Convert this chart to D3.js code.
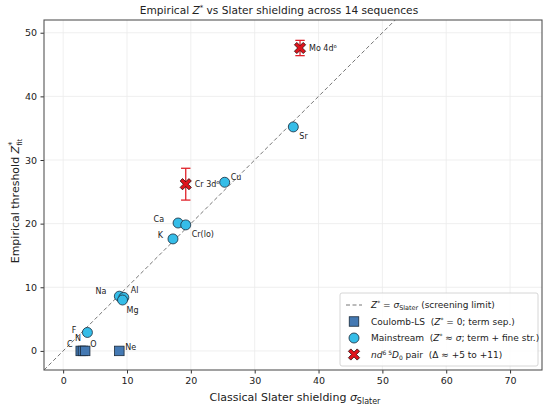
<!DOCTYPE html>
<html>
<head>
<meta charset="utf-8">
<script src="https://cdn.jsdelivr.net/npm/d3@7"></script>
<style>
  body { margin: 0; background: #fff; }
  svg { font-family: 'DejaVu Sans', sans-serif; }
</style>
</head>
<body>
<div id="chart"></div>
<script>
// Coulomb-LS sequences (Z* = 0)
const coulombNames = ['C', 'N', 'O', 'Ne'];
const coulombSigma = [2.75, 3.1, 3.45, 8.8];
const coulombZ = [0, 0, 0, 0];
const coulombLabelDx = [-8, -2, 5, 6];
const coulombLabelDy = [-4, -10, -4, -1];

// Mainstream sequences (Z* ~ sigma)
const mainNames = ['F', 'Na', 'Al', 'Mg', 'K', 'Ca', 'Cr(lo)', 'Cu', 'Sr'];
const mainSigma = [3.8, 8.8, 9.5, 9.3, 17.2, 18.0, 19.2, 25.3, 36.05];
const mainZ = [2.9, 8.6, 8.4, 8.0, 17.6, 20.1, 19.8, 26.5, 35.2];
const mainLabelDx = [-11, -13, 7, 4, -10, -14, 6, 6, 6];
const mainLabelDy = [1, -2, -4, 13, -1, -1, 12, -2, 12];

// nd^6 5D0 pair
const pairNames = ['Cr 3d\u2076', 'Mo 4d\u2076'];
const pairSigma = [19.2, 37.1];
const pairZ = [26.2, 47.6];
const pairErr = [2.5, 1.2];

const xTicks = [0, 10, 20, 30, 40, 50, 60, 70];
const yTicks = [0, 10, 20, 30, 40, 50];

const fullW = 550, fullH = 409;
const margin = { top: 20, right: 8, bottom: 39, left: 44 };
const width = fullW - margin.left - margin.right;
const height = fullH - margin.top - margin.bottom;

const svg = d3.select('#chart').append('svg')
  .attr('width', fullW)
  .attr('height', fullH);

const x = d3.scaleLinear().domain([-3, 75]).range([0, width]);
const y = d3.scaleLinear().domain([-3, 52]).range([height, 0]);

const g = svg.append('g')
  .attr('transform', 'translate(' + margin.left + ',' + margin.top + ')');

// grid
g.selectAll('.gx').data(xTicks).enter().append('line')
  .attr('x1', d => x(d)).attr('x2', d => x(d))
  .attr('y1', 0).attr('y2', height)
  .attr('stroke', '#ebebeb').attr('stroke-width', 0.8);
g.selectAll('.gy').data(yTicks).enter().append('line')
  .attr('y1', d => y(d)).attr('y2', d => y(d))
  .attr('x1', 0).attr('x2', width)
  .attr('stroke', '#ebebeb').attr('stroke-width', 0.8);

// clip for diagonal
svg.append('clipPath').attr('id', 'clip').append('rect')
  .attr('width', width).attr('height', height);

g.append('line')
  .attr('clip-path', 'url(#clip)')
  .attr('x1', x(-3)).attr('y1', y(-3))
  .attr('x2', x(75)).attr('y2', y(75))
  .attr('stroke', '#777').attr('stroke-width', 1)
  .attr('stroke-dasharray', '4,2.5');

// axes
const xAxis = g.append('g')
  .attr('transform', 'translate(0,' + height + ')')
  .call(d3.axisBottom(x).tickValues(xTicks).tickSize(3.5).tickPadding(3.5));
const yAxis = g.append('g')
  .call(d3.axisLeft(y).tickValues(yTicks).tickSize(3.5).tickPadding(3.5));
[xAxis, yAxis].forEach(a => {
  a.select('.domain').remove();
  a.selectAll('.tick line').attr('stroke', '#333');
  a.selectAll('.tick text').attr('fill', '#222').style('font-size', '9.5px')
    .style('font-family', 'DejaVu Sans');
});

// frame
g.append('rect').attr('width', width).attr('height', height)
  .attr('fill', 'none').attr('stroke', '#555').attr('stroke-width', 1.1);

const labelSize = '8px';

// Coulomb squares
const sq = 9.5;
g.selectAll('.coul').data(coulombSigma).enter().append('rect')
  .attr('x', (d) => x(d) - sq / 2)
  .attr('y', (d, i) => y(coulombZ[i]) - sq / 2)
  .attr('width', sq).attr('height', sq)
  .attr('fill', '#4479b3').attr('stroke', '#1a2a3a').attr('stroke-width', 0.8);
g.selectAll('.coulLab').data(coulombNames).enter().append('text')
  .attr('x', (d, i) => x(coulombSigma[i]) + coulombLabelDx[i])
  .attr('y', (d, i) => y(coulombZ[i]) + coulombLabelDy[i])
  .attr('text-anchor', (d, i) => coulombLabelDx[i] < 0 ? 'end' : 'start')
  .style('font-size', labelSize).attr('fill', '#222')
  .text(d => d);

// mainstream circles
g.selectAll('.main').data(mainSigma).enter().append('circle')
  .attr('cx', d => x(d))
  .attr('cy', (d, i) => y(mainZ[i]))
  .attr('r', 5)
  .attr('fill', '#35bde8').attr('stroke', '#1a2a3a').attr('stroke-width', 0.8);
g.selectAll('.mainLab').data(mainNames).enter().append('text')
  .attr('x', (d, i) => x(mainSigma[i]) + mainLabelDx[i])
  .attr('y', (d, i) => y(mainZ[i]) + mainLabelDy[i])
  .attr('text-anchor', (d, i) => mainLabelDx[i] < 0 ? 'end' : 'start')
  .style('font-size', labelSize).attr('fill', '#222')
  .text(d => d);

// pair: error bars + X markers
const crossPath = (s, a) => {
  return 'M' + (-s) + ',' + (-s + a) + ' L' + (-s + a) + ',' + (-s) + ' L0,' + (-a) +
    ' L' + (s - a) + ',' + (-s) + ' L' + s + ',' + (-s + a) + ' L' + a + ',0' +
    ' L' + s + ',' + (s - a) + ' L' + (s - a) + ',' + s + ' L0,' + a +
    ' L' + (-s + a) + ',' + s + ' L' + (-s) + ',' + (s - a) + ' L' + (-a) + ',0 Z';
};
pairSigma.forEach((s, i) => {
  const cx = x(s);
  const eg = g.append('g').attr('stroke', '#e0222a').attr('stroke-width', 1.3);
  eg.append('line').attr('x1', cx).attr('x2', cx)
    .attr('y1', y(pairZ[i] - pairErr[i])).attr('y2', y(pairZ[i] + pairErr[i]));
  [pairZ[i] - pairErr[i], pairZ[i] + pairErr[i]].forEach(v => {
    eg.append('line').attr('x1', cx - 4.7).attr('x2', cx + 4.7)
      .attr('y1', y(v)).attr('y2', y(v));
  });
});
g.selectAll('.pair').data(pairSigma).enter().append('path')
  .attr('transform', (d, i) => 'translate(' + x(d) + ',' + y(pairZ[i]) + ')')
  .attr('d', crossPath(5.6, 2.4))
  .attr('fill', '#e0141c').attr('stroke', '#2a0a0a').attr('stroke-width', 0.8);
g.selectAll('.pairLab').data(pairNames).enter().append('text')
  .attr('x', (d, i) => x(pairSigma[i]) + 9)
  .attr('y', (d, i) => y(pairZ[i]) + 3)
  .style('font-size', labelSize).attr('fill', '#222')
  .text(d => d);

// title
const title = svg.append('text')
  .attr('x', 279).attr('y', 14)
  .attr('text-anchor', 'middle')
  .style('font-size', '10.6px').attr('fill', '#222');
title.append('tspan').text('Empirical ');
title.append('tspan').style('font-style', 'italic').text('Z');
title.append('tspan').attr('dy', -4).style('font-size', '7px').text('*');
title.append('tspan').attr('dy', 4).text(' vs Slater shielding across 14 sequences');

// x label
const xl = svg.append('text')
  .attr('x', margin.left + width / 2 + 2).attr('y', 401)
  .attr('text-anchor', 'middle')
  .style('font-size', '11px').attr('fill', '#222');
xl.append('tspan').text('Classical Slater shielding  ');
xl.append('tspan').style('font-style', 'italic').text('σ');
xl.append('tspan').attr('dy', 3).style('font-size', '8px').text('Slater');

// y label
const yl = svg.append('text')
  .attr('transform', 'translate(19,' + (margin.top + height / 2 + 6) + ') rotate(-90)')
  .attr('text-anchor', 'middle')
  .style('font-size', '11px').attr('fill', '#222');
yl.append('tspan').text('Empirical threshold  ');
yl.append('tspan').style('font-style', 'italic').text('Z');
yl.append('tspan').attr('dy', -4).style('font-size', '8px').text('*');
yl.append('tspan').attr('dx', -4).attr('dy', 7).style('font-size', '7px').text('fit');

// legend
const lg = svg.append('g').attr('transform', 'translate(340,293)');
lg.append('rect').attr('width', 198).attr('height', 73).attr('rx', 2)
  .attr('fill', '#fff').attr('fill-opacity', 0.85)
  .attr('stroke', '#ccc').attr('stroke-width', 0.8);
const ly = [12, 28.5, 45, 61.5];
const lfs = '9px';
lg.append('line').attr('x1', 6).attr('x2', 22).attr('y1', ly[0]).attr('y2', ly[0])
  .attr('stroke', '#777').attr('stroke-dasharray', '4,2.5');
lg.append('rect').attr('x', 14 - sq / 2).attr('y', ly[1] - sq / 2)
  .attr('width', sq).attr('height', sq)
  .attr('fill', '#4479b3').attr('stroke', '#1a2a3a').attr('stroke-width', 0.8);
lg.append('circle').attr('cx', 14).attr('cy', ly[2]).attr('r', 5)
  .attr('fill', '#35bde8').attr('stroke', '#1a2a3a').attr('stroke-width', 0.8);
lg.append('path').attr('transform', 'translate(14,' + ly[3] + ')').attr('d', crossPath(5.6, 2.4))
  .attr('fill', '#e0141c').attr('stroke', '#2a0a0a').attr('stroke-width', 0.8);

const tx = 31;
const t0 = lg.append('text').attr('x', tx).attr('y', ly[0] + 3).style('font-size', lfs).attr('fill', '#222');
t0.append('tspan').style('font-style', 'italic').text('Z');
t0.append('tspan').attr('dy', -3).style('font-size', '6px').text('*');
t0.append('tspan').attr('dy', 3).text(' = ');
t0.append('tspan').style('font-style', 'italic').text('σ');
t0.append('tspan').attr('dy', 2).style('font-size', '6.5px').text('Slater');
t0.append('tspan').attr('dy', -2).text(' (screening limit)');

const t1 = lg.append('text').attr('x', tx).attr('y', ly[1] + 3).style('font-size', lfs).attr('fill', '#222')
  .attr('xml:space', 'preserve');
t1.append('tspan').text('Coulomb-LS  (');
t1.append('tspan').style('font-style', 'italic').text('Z');
t1.append('tspan').attr('dy', -3).style('font-size', '6px').text('*');
t1.append('tspan').attr('dy', 3).text(' = 0; term sep.)');

const t2 = lg.append('text').attr('x', tx).attr('y', ly[2] + 3).style('font-size', lfs).attr('fill', '#222')
  .attr('xml:space', 'preserve');
t2.append('tspan').text('Mainstream  (');
t2.append('tspan').style('font-style', 'italic').text('Z');
t2.append('tspan').attr('dy', -3).style('font-size', '6px').text('*');
t2.append('tspan').attr('dy', 3).text(' ≈ ');
t2.append('tspan').style('font-style', 'italic').text('σ');
t2.append('tspan').text('; term + fine str.)');

const t3 = lg.append('text').attr('x', tx).attr('y', ly[3] + 3).style('font-size', lfs).attr('fill', '#222')
  .attr('xml:space', 'preserve');
t3.append('tspan').style('font-style', 'italic').text('nd');
t3.append('tspan').attr('dy', -3).style('font-size', '6px').text('6 5');
t3.append('tspan').attr('dy', 3).style('font-style', 'italic').text('D');
t3.append('tspan').attr('dy', 2).style('font-size', '6px').text('0');
t3.append('tspan').attr('dy', -2).text(' pair  (Δ ≈ +5 to +11)');
</script>
</body>
</html>
